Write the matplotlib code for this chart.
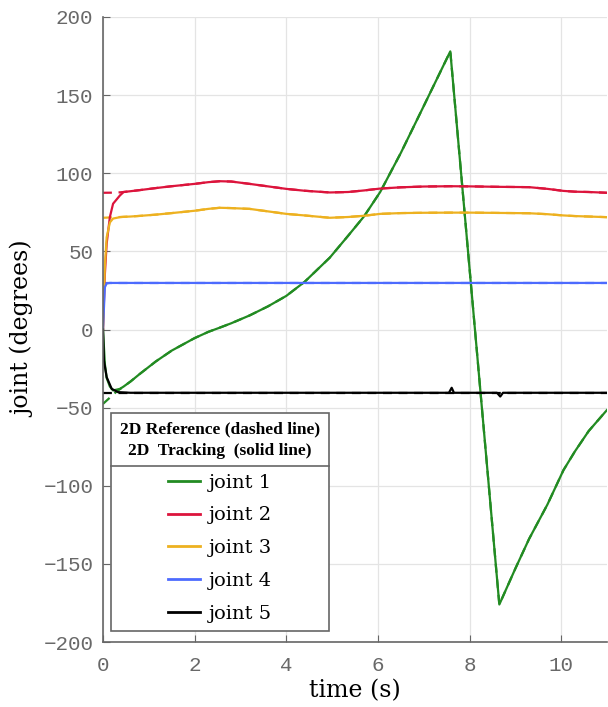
import numpy as np
import matplotlib
matplotlib.use('Agg')
import matplotlib.pyplot as plt
from matplotlib.lines import Line2D

# reference trajectories (dashed), sampled times in seconds
t_ref = [0, 0.3, 0.45, 0.6, 0.8, 1.15, 1.5, 2.0, 2.3, 2.55, 2.8, 3.2, 3.6, 4.0, 4.4,
         4.95, 5.35, 5.7, 6.05, 6.5, 7.0, 7.58, 8.0, 8.65, 9.0, 9.3, 9.7, 10.05,
         10.3, 10.6, 11.0]
ref_j1 = [-47.6, -39.6, -36.5, -33.3, -28.5, -20.5, -13.5, -5.5, -1.5, 1.2, 4.0, 9.0,
          14.8, 21.5, 30.5, 46.0, 60.0, 72.5, 88.0, 113.0, 143.0, 178.0, 39.0,
          -176.0, -153.0, -134.0, -112.0, -90.0, -78.0, -65.0, -51.5]
ref_j2 = [87.5, 87.6, 88.0, 88.5, 89.2, 90.5, 91.7, 93.2, 94.3, 94.9, 94.7, 93.2,
          91.6, 90.0, 88.8, 87.7, 88.0, 89.0, 90.2, 91.0, 91.5, 91.7, 91.6,
          91.3, 91.2, 91.1, 90.0, 88.7, 88.2, 88.0, 87.5]
ref_j3 = [71.5, 71.9, 72.1, 72.3, 72.7, 73.5, 74.5, 76.0, 77.2, 77.9, 77.7, 77.2,
          75.6, 74.0, 73.0, 71.5, 72.0, 72.8, 74.0, 74.5, 74.7, 74.8, 74.8,
          74.6, 74.5, 74.4, 73.8, 73.0, 72.6, 72.3, 71.9]
ref_j4 = [29.8] * len(t_ref)
ref_j5 = [-40.5] * len(t_ref)

# tracking (solid): start-up transient, then follows the reference
t_start = [0, 0.04, 0.08, 0.15, 0.22, 0.37]
start_j1 = [0, -22.0, -31.0, -36.5, -39.0, -38.0]
start_j2 = [0, 35.0, 55.0, 72.0, 80.5, 85.8]
start_j3 = [0, 40.0, 59.0, 68.5, 71.0, 71.9]
start_j4 = [0, 27.0, 29.5, 29.8, 29.8, 29.8]

t_j5 = [0, 0.02, 0.08, 0.19, 0.33, 0.6, 7.55, 7.61, 7.66, 8.6, 8.67, 8.73, 11.0]
trk_j5 = [0, -19.8, -30.5, -38.0, -40.1, -40.5, -40.5, -37.3, -40.5, -40.5, -42.9, -40.5, -40.5]

labels = ['joint 1', 'joint 2', 'joint 3', 'joint 4', 'joint 5']
colors = ['#228B22', '#DC143C', '#EDB120', '#4D6BFE', '#000000']

refs = [ref_j1, ref_j2, ref_j3, ref_j4, ref_j5]
starts = [start_j1, start_j2, start_j3, start_j4]

t_ref = np.array(t_ref)
keep = t_ref >= 0.45

fig = plt.figure(figsize=(6.08, 7.07), dpi=100)
ax = fig.add_axes([103/608, 1-642/707, 504/608, 625/707])

for r, c in zip(refs, colors):
    ax.plot(t_ref, r, color=c, lw=1.6, ls=(0, (4, 3)))

for s, r, c in zip(starts, refs, colors):
    tt = np.concatenate([t_start, t_ref[keep]])
    yy = np.concatenate([s, np.array(r)[keep]])
    ax.plot(tt, yy, color=c, lw=1.6)
ax.plot(t_j5, trk_j5, color=colors[4], lw=1.6)

ax.set_xlim(0, 11)
ax.set_ylim(-200, 200)
ax.set_xticks(range(0, 11, 2))
ax.set_yticks(range(-200, 201, 50))
ax.grid(True, color='#e4e4e4', lw=0.9)
ax.set_axisbelow(True)
for s in ['top', 'right']:
    ax.spines[s].set_visible(False)
for s in ['left', 'bottom']:
    ax.spines[s].set_color('#666666')
    ax.spines[s].set_linewidth(1.2)
ax.tick_params(direction='in', length=5, color='#666666', labelcolor='#686868',
               labelsize=15, pad=7)
ax.tick_params(axis='x', pad=10)
for lab in ax.get_xticklabels() + ax.get_yticklabels():
    lab.set_family('Liberation Mono')

ax.set_xlabel('time (s)', family='DejaVu Serif', fontsize=17, labelpad=3)
ax.set_ylabel('joint (degrees)', family='DejaVu Serif', fontsize=17, labelpad=6)

handles = [Line2D([], [], color=c, lw=2) for c in colors]
leg = ax.legend(handles, labels, loc='upper left', bbox_to_anchor=(0.016, 0.367),
                borderaxespad=0, fancybox=False, framealpha=1, edgecolor='#666666',
                prop={'family': 'DejaVu Serif', 'size': 14}, handlelength=1.65,
                handletextpad=0.45, labelspacing=0.76, borderpad=0.45,
                title='2D Reference (dashed line)\n2D  Tracking  (solid line)',
                title_fontproperties={'family': 'Liberation Serif', 'weight': 'bold', 'size': 12.5})
leg.get_title().set_multialignment('center')
leg.get_title().set_linespacing(1.45)
leg.get_frame().set_linewidth(1.2)

# separator between legend header and entries
fig.canvas.draw()
r = fig.canvas.get_renderer()
lb = leg.get_window_extent(r)
tb = leg.get_title().get_window_extent(r)
eb = leg.get_texts()[0].get_window_extent(r)
ysep = (tb.y0 + eb.y1) / 2
W, H = fig.canvas.get_width_height()
fig.add_artist(Line2D([lb.x0 / W, lb.x1 / W], [ysep / H, ysep / H],
                      transform=fig.transFigure, color='#666666', lw=1.2))

fig.savefig('out.png', dpi=100)
